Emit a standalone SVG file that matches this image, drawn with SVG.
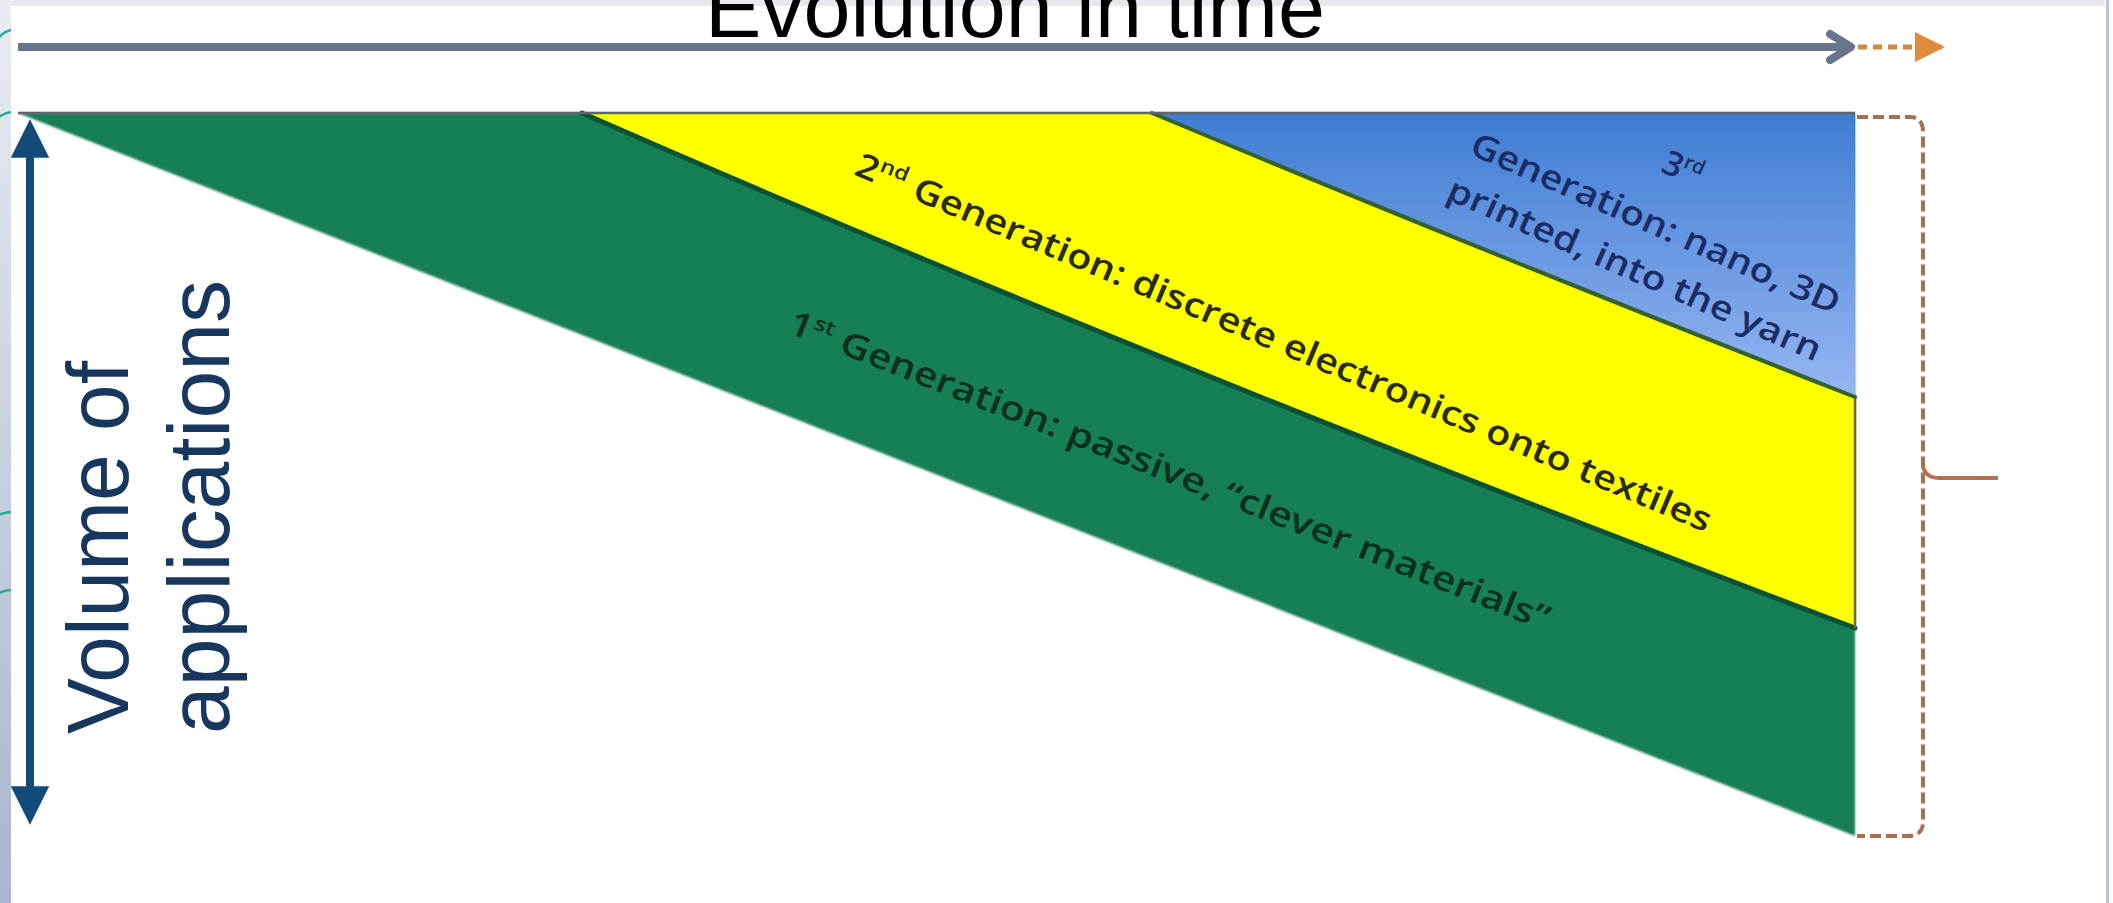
<svg xmlns="http://www.w3.org/2000/svg" width="2113" height="903" viewBox="0 0 2113 903">
<defs>
<linearGradient id="stripGrad" x1="0" y1="0" x2="0" y2="1">
<stop offset="0" stop-color="#e9edf2"/>
<stop offset="1" stop-color="#a8b5cc"/>
</linearGradient>
<linearGradient id="blueGrad" gradientUnits="userSpaceOnUse" x1="0" y1="113" x2="0" y2="400">
<stop offset="0" stop-color="#3f7dd3"/>
<stop offset="1" stop-color="#97b6f2"/>
</linearGradient>
<marker id="volHead" viewBox="0 0 10 10" refX="8" refY="5" markerWidth="4.8" markerHeight="4.8" orient="auto-start-reverse" markerUnits="strokeWidth">
<path d="M0,0 L10,5 L0,10 z" fill="#124b78"/>
</marker>
<marker id="orangeHead" viewBox="0 0 10 10" refX="9" refY="5" markerWidth="6" markerHeight="6" orient="auto" markerUnits="strokeWidth">
<path d="M0,0 L10,5 L0,10 z" fill="#e08a3c"/>
</marker>
<filter id="soft" x="-5%" y="-5%" width="110%" height="110%">
<feGaussianBlur stdDeviation="1.2"/>
</filter>
</defs>
<style>
.band-text{font-family:"Open Sans","Liberation Sans",sans-serif;font-weight:600;font-size:34px;text-anchor:middle}
.axis-text{font-family:"Liberation Sans",Arial,sans-serif;fill:#17375e;font-size:87px}
.edge{fill:none;stroke-linecap:round}
.dash{fill:none;stroke:#a9704e;stroke-width:4;stroke-dasharray:11 5}
</style>

<!-- slide background -->
<g id="background">
<rect x="0" y="0" width="2113" height="903" fill="#ffffff"/>
<rect x="0" y="0" width="2105" height="6" fill="#e6e9ee"/>
<rect x="0" y="0" width="11" height="903" fill="url(#stripGrad)"/>
<path d="M11,30 A22,22 0 0 0 -6,52" fill="none" stroke="#2aa89a" stroke-width="2.5"/>
<path d="M11,112 A26,26 0 0 0 -8,150" fill="none" stroke="#2aa89a" stroke-width="2.5"/>
<path d="M11,410 A30,30 0 0 0 -10,450" fill="none" stroke="#c9d4e0" stroke-width="2.5"/>
<path d="M11,512 A30,30 0 0 0 -12,560" fill="none" stroke="#2aa89a" stroke-width="2.5"/>
<path d="M11,590 A30,30 0 0 0 -10,640" fill="none" stroke="#2aa89a" stroke-width="2.5"/>
<rect x="2106" y="0" width="3" height="903" fill="#b9c3d4"/>
</g>

<!-- chart bands -->
<g id="gen1-band">
<path d="M18,113 L1855,113 L1855,836 Z" fill="#137f56" filter="url(#soft)"/>
</g>
<g id="gen2-band">
<path d="M582,113 Q1150,362 1855,628 L1855,113 Z" fill="#ffff00"/>
<path class="edge" d="M582,113 Q1150,362 1855,628" stroke="#0c5230" stroke-width="5"/>
<line x1="1855" y1="395" x2="1855" y2="628" stroke="#6d6d2a" stroke-width="2.5"/>
</g>
<g id="gen3-band">
<path d="M1152,113 Q1480,250 1855,397 L1855,113 Z" fill="url(#blueGrad)"/>
<path class="edge" d="M1152,113 Q1480,250 1855,397" stroke="#33622e" stroke-width="4"/>
<line x1="18" y1="113" x2="1855" y2="113" stroke="#5d6670" stroke-width="2.5"/>
</g>

<!-- band labels -->
<g id="gen2-label">
<text class="band-text" fill="#2a2a0e" transform="translate(1283,344) rotate(22.8)" x="0" y="10" textLength="925" lengthAdjust="spacingAndGlyphs">2<tspan font-size="20" dy="-13">nd</tspan><tspan dy="13"> Generation: discrete electronics onto textiles</tspan></text>
</g>
<g id="gen1-label">
<text class="band-text" fill="#0c2f1c" transform="translate(1169,472) rotate(21.5)" x="0" y="10" textLength="815" lengthAdjust="spacingAndGlyphs">1<tspan font-size="20" dy="-13">st</tspan><tspan dy="13"> Generation: passive, “clever materials”</tspan></text>
</g>
<g id="gen3-label">
<text class="band-text" fill="#1b2d66" transform="translate(1682,170) rotate(24)" x="0" y="10">3<tspan font-size="20" dy="-13">rd</tspan></text>
<text class="band-text" fill="#1b2d66" transform="translate(1655,225) rotate(23.8)" x="0" y="10" textLength="400" lengthAdjust="spacingAndGlyphs">Generation: nano, 3D</text>
<text class="band-text" fill="#1b2d66" transform="translate(1634,271) rotate(23.8)" x="0" y="10" textLength="405" lengthAdjust="spacingAndGlyphs">printed, into the yarn</text>
</g>

<!-- axis labels -->
<g id="title">
<text x="1015" y="37" font-family="Liberation Sans, Arial, sans-serif" font-size="84" fill="#000000" text-anchor="middle" textLength="620" lengthAdjust="spacingAndGlyphs">Evolution in time</text>
</g>
<g id="volume-label">
<text class="axis-text" transform="translate(128,734) rotate(-90)" x="0" y="0" textLength="373" lengthAdjust="spacingAndGlyphs">Volume of</text>
<text class="axis-text" transform="translate(229,734) rotate(-90)" x="0" y="0" textLength="454" lengthAdjust="spacingAndGlyphs">applications</text>
</g>

<!-- connectors -->
<g id="connectors">
<g id="time-arrow">
<line x1="18" y1="47" x2="1846" y2="47" stroke="#66758b" stroke-width="8"/>
<path d="M1830,34 L1851,47 L1830,60" fill="none" stroke="#66758b" stroke-width="8" stroke-linejoin="round" stroke-linecap="round"/>
<line x1="1858" y1="47" x2="1942" y2="47" stroke="#d4883e" stroke-width="5" stroke-dasharray="9 6" marker-end="url(#orangeHead)"/>
</g>
<g id="volume-arrow">
<line x1="30" y1="127" x2="30" y2="817" stroke="#124b78" stroke-width="8" marker-start="url(#volHead)" marker-end="url(#volHead)"/>
</g>
<g id="bracket">
<path class="dash" d="M1857,117 L1910,117 Q1923,117 1923,132 L1923,822 Q1923,836 1908,836 L1857,836"/>
<path d="M1923,466 Q1925,478 1940,478 L1998,478" fill="none" stroke="#b8704e" stroke-width="4"/>
</g>
</g>
</svg>
